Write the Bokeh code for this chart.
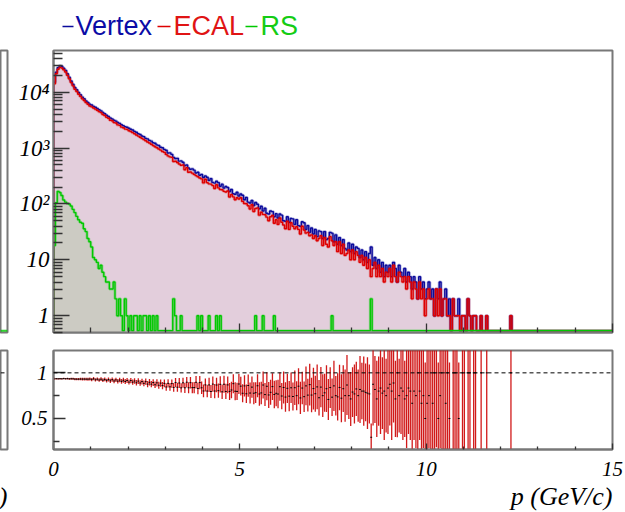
import numpy as np
from bokeh.plotting import figure
from bokeh.models import Range1d, FixedTicker, Span, Title, CustomJSTickFormatter
from bokeh.layouts import column, row
from bokeh.embed import file_html
from bokeh.resources import INLINE
from bokeh.core.properties import value

# ---------------- data ----------------
p_min, p_max, bin_width = 0.0, 15.0, 0.05

vertex = [
    15100, 22800, 27600, 29700, 29100, 26900, 24600, 21400, 18600, 15900, 13900, 12150, 11050, 9870, 9030, 8170, 7640, 6980, 6530, 6080,
    5912, 5588, 5391, 5120, 4873, 4641, 4352, 4136, 3878, 3689, 3452, 3327, 3141, 3038, 2862, 2771, 2618, 2523, 2415, 2356,
    2271, 2168, 2104, 1987, 1921, 1803, 1756, 1648, 1602, 1493, 1461, 1372, 1334, 1247, 1218, 1139, 1112, 1038, 1012, 948,
    912, 818, 821, 772, 683, 649, 655, 584, 590, 558, 489, 497, 441, 417, 425, 403, 358, 369, 327, 336,
    297, 318, 301, 264, 284, 243, 236, 255, 241, 207, 226, 192, 206, 197, 167, 181, 152, 149, 162, 139,
    151, 143, 119, 131, 108, 104, 115, 94, 106, 99, 82, 91, 75, 84, 68, 66, 75, 73, 59, 67,
    56, 66, 63, 50, 49, 59, 47, 55, 54, 43, 52, 41, 40, 48, 46, 35, 41, 31, 37, 29,
    35, 26, 33, 32, 24, 32, 23, 24, 31, 30, 21, 28, 19, 25, 18, 23, 16, 15, 20, 14,
    19, 13, 17, 16, 11, 15, 10, 14, 9, 13, 17, 8, 11, 7, 10, 6, 9, 5, 8, 6,
    8, 5, 9, 7, 4, 8, 6, 5, 7, 4, 6, 5, 3, 5, 4, 2, 5, 3, 4, 2,
    3, 4, 2, 3, 1, 3, 2, 4, 1, 2, 3, 1, 2, 0, 2, 1, 1, 2, 0, 1,
    1, 0, 2, 1, 0, 1, 1, 0, 0, 1, 0, 0, 1, 0, 0, 0, 0, 0, 0, 0,
    0, 0, 0, 0, 0, 1, 0, 0, 0, 0, 0, 0, 0, 0, 0, 0, 0, 0, 0, 0,
    0, 0, 0, 0, 0, 0, 0, 0, 0, 0, 0, 0, 0, 0, 0, 0, 0, 0, 0, 0,
    0, 0, 0, 0, 0, 0, 0, 0, 0, 0, 0, 0, 0, 0, 0, 0, 0, 0, 0, 0,
]

ecal = [
    14120, 21340, 25790, 27790, 27190, 25200, 23000, 20050, 17370, 14870, 12990, 11320, 10290, 9190, 8420, 7610, 7120, 6500, 6080, 5670,
    5471, 5230, 4978, 4768, 4489, 4320, 4002, 3841, 3548, 3421, 3150, 3079, 2861, 2804, 2601, 2553, 2371, 2318, 2185, 2160,
    2041, 1985, 1889, 1810, 1712, 1640, 1561, 1490, 1418, 1349, 1281, 1230, 1169, 1115, 1059, 1014, 961, 921, 871, 839,
    771, 724, 695, 681, 574, 580, 552, 519, 493, 497, 409, 446, 369, 372, 356, 338, 321, 306, 292, 281,
    238, 276, 241, 229, 226, 213, 189, 221, 194, 181, 179, 168, 164, 171, 133, 147, 134, 119, 129, 122,
    129, 111, 102, 101, 93, 81, 97, 73, 83, 85, 63, 71, 65, 64, 58, 50, 59, 62, 45, 52,
    43, 56, 47, 42, 36, 49, 35, 46, 40, 36, 39, 35, 29, 40, 34, 30, 31, 27, 28, 24,
    27, 22, 24, 27, 18, 25, 19, 17, 26, 22, 18, 21, 14, 21, 13, 19, 12, 13, 15, 10,
    15, 10, 14, 12, 9, 12, 8, 11, 7, 10, 5, 7, 9, 5, 8, 5, 7, 4, 6, 5,
    7, 4, 8, 5, 4, 6, 5, 4, 5, 3, 5, 4, 2, 4, 3, 2, 4, 2, 3, 1,
    2, 3, 2, 2, 1, 3, 1, 3, 1, 2, 2, 1, 1, 0, 2, 1, 1, 1, 0, 1,
    1, 0, 2, 1, 0, 1, 1, 0, 0, 1, 0, 0, 1, 0, 0, 0, 0, 0, 0, 0,
    0, 0, 0, 0, 0, 1, 0, 0, 0, 0, 0, 0, 0, 0, 0, 0, 0, 0, 0, 0,
    0, 0, 0, 0, 0, 0, 0, 0, 0, 0, 0, 0, 0, 0, 0, 0, 0, 0, 0, 0,
    0, 0, 0, 0, 0, 0, 0, 0, 0, 0, 0, 0, 0, 0, 0, 0, 0, 0, 0, 0,
]

rs = [
    18, 105, 168, 160, 142, 118, 108, 102, 100, 92, 80, 70, 60, 52, 47, 45, 36, 32, 24, 21,
    17, 11, 10, 9, 7, 8, 6, 5, 4, 4, 3, 3, 4, 2, 1, 2, 1, 0, 2, 1,
    0, 1, 0, 1, 1, 0, 1, 0, 1, 1, 0, 1, 0, 1, 0, 1, 0, 0, 0, 0,
    0, 0, 0, 0, 2, 1, 0, 0, 1, 0, 0, 0, 0, 0, 0, 0, 0, 1, 0, 1,
    0, 0, 0, 1, 0, 0, 0, 1, 0, 1, 0, 0, 0, 0, 0, 0, 0, 0, 0, 0,
    0, 0, 0, 0, 0, 0, 0, 0, 1, 0, 0, 0, 1, 0, 0, 0, 0, 0, 1, 0,
    0, 0, 0, 0, 0, 0, 0, 0, 0, 0, 0, 0, 0, 0, 0, 0, 0, 0, 0, 0,
    0, 0, 0, 0, 0, 0, 0, 0, 0, 1, 0, 0, 0, 0, 0, 0, 0, 0, 0, 0,
    0, 0, 0, 0, 0, 0, 0, 0, 0, 0, 2, 0, 0, 0, 0, 0, 0, 0, 0, 0,
    0, 0, 0, 0, 0, 0, 0, 0, 0, 0, 0, 0, 0, 0, 0, 0, 0, 0, 0, 0,
    0, 0, 0, 0, 0, 0, 0, 0, 0, 0, 0, 0, 0, 0, 0, 0, 0, 0, 0, 0,
    0, 0, 0, 0, 0, 0, 0, 0, 0, 0, 0, 0, 0, 0, 0, 0, 0, 0, 0, 0,
    0, 0, 0, 0, 0, 0, 0, 0, 0, 0, 0, 0, 0, 0, 0, 0, 0, 0, 0, 0,
    0, 0, 0, 0, 0, 0, 0, 0, 0, 0, 0, 0, 0, 0, 0, 0, 0, 0, 0, 0,
    0, 0, 0, 0, 0, 0, 0, 0, 0, 0, 0, 0, 0, 0, 0, 0, 0, 0, 0, 0,
]

legend_labels = ["Vertex", "ECAL", "RS"]
x_major = [0, 5, 10, 15]
x_minor = [1, 2, 3, 4, 6, 7, 8, 9, 11, 12, 13, 14]
log_major = [1, 10, 100, 1000, 10000]
log_minor = [m * 10 ** k for k in range(-1, 5) for m in range(2, 10)]
ratio_major = [0.5, 1.0]
ratio_minor = [0.25, 0.75]
x_title = "p (GeV/c)"
neighbour_last_tick = "15"

# ---------------- styles ----------------
C_BLUE, C_RED, C_GREEN = "#0a0a9c", "#dd0000", "#00c800"
TXT_COLORS = ["#0b0ba6", "#e01414", "#14cc14"]
PINK, GREY = "#e3cedc", "#cccbc3"
FRAME = "#787878"
SERIF = "Liberation Serif"
Y_LOG = (0.5, 55800.0)
ZERO_LEVEL = 0.54          # where empty bins are drawn (just above the bottom edge)
Y_RATIO = (0.16, 1.245)

edges = p_min + bin_width * np.arange(len(vertex) + 1)
V = np.asarray(vertex, float)
E = np.asarray(ecal, float)
R = np.asarray(rs, float)


def steps(vals, floor):
    v = np.maximum(vals, floor)
    xs = np.concatenate([[edges[0]], np.repeat(edges, 2)[1:-1], [edges[-1]]])
    ys = np.concatenate([[floor], np.repeat(v, 2), [floor]])
    return xs, ys


def style_frame(p):
    p.grid.visible = False
    p.outline_line_color = FRAME
    p.outline_line_width = 2
    p.background_fill_color = "white"
    p.border_fill_color = "white"


def style_axis(ax, major_in, minor_in, font_size=None):
    ax.major_tick_in = major_in
    ax.major_tick_out = 0
    ax.minor_tick_in = minor_in
    ax.minor_tick_out = 0
    ax.axis_line_color = FRAME
    ax.axis_line_width = 2
    ax.major_tick_line_color = "#333333"
    ax.minor_tick_line_color = "#333333"
    ax.major_tick_line_width = 1.3
    ax.minor_tick_line_width = 1.3
    ax.major_label_text_font = SERIF
    ax.major_label_text_font_style = "italic"
    ax.major_label_text_color = "black"
    if font_size:
        ax.major_label_text_font_size = font_size


def x_title_obj(standoff=3):
    return Title(text=x_title, align="right", text_font=SERIF, text_font_style="italic",
                 text_font_size="26px", text_color="black", standoff=standoff)


# ---------------- header (legend line) ----------------
hdr = figure(width=625, height=48, x_range=Range1d(0, 625), y_range=Range1d(48, 0),
             toolbar_location=None, output_backend="svg", min_border=0,
             x_axis_location=None, y_axis_location=None)
hdr.grid.visible = False
hdr.outline_line_color = None
hdr.segment(x0=[62, 157, 245], x1=[73, 170, 257], y0=[26, 26, 26], y1=[26, 26, 26],
            line_color=[C_BLUE, C_RED, C_GREEN], line_width=1.5)
hdr.text(x=[75, 173, 260], y=[25, 25, 25], text=legend_labels, text_color=TXT_COLORS,
         text_font=value("Liberation Sans"), text_font_size="27px", text_baseline="middle")

# ---------------- upper main panel ----------------
up = figure(width=611, height=290, x_range=Range1d(p_min, p_max), y_range=Range1d(*Y_LOG),
            y_axis_type="log", toolbar_location=None, output_backend="svg",
            min_border_left=39, min_border_right=13, min_border_top=2, min_border_bottom=6)
style_frame(up)
xs, yv = steps(V, ZERO_LEVEL)
_, ye = steps(E, ZERO_LEVEL)
_, yr = steps(R, ZERO_LEVEL)
up.varea(x=xs, y1=Y_LOG[0], y2=yv, fill_color=PINK)
up.varea(x=xs, y1=Y_LOG[0], y2=yr, fill_color=GREY)
for ys, col in ((yv, C_BLUE), (ye, C_RED), (yr, C_GREEN)):
    up.line(xs, ys, line_color=col, line_width=3, line_alpha=0.28)
    up.line(xs, ys, line_color=col, line_width=1.4)

up.xaxis.ticker = FixedTicker(ticks=x_major, minor_ticks=x_minor)
style_axis(up.xaxis, 9, 5, "1px")
up.xaxis.major_label_text_color = None
up.xaxis.major_label_standoff = 0
up.yaxis.ticker = FixedTicker(ticks=log_major, minor_ticks=log_minor)
up.yaxis.formatter = CustomJSTickFormatter(code="""
const e = Math.round(Math.log10(tick));
if (e <= 0) return "1";
if (e == 1) return "10";
const sup = {2: "\\u00b2", 3: "\\u00b3", 4: "\\u2074", 5: "\\u2075"};
return "10" + sup[e];
""")
style_axis(up.yaxis, 16, 9, "23px")
up.yaxis.major_label_standoff = 4

# ---------------- lower main panel (ratio) ----------------
lo = figure(width=611, height=174, x_range=Range1d(p_min, p_max), y_range=Range1d(*Y_RATIO),
            toolbar_location=None, output_backend="svg",
            min_border_left=39, min_border_right=13, min_border_top=12, min_border_bottom=60)
style_frame(lo)
ok = V > 0
ratio = E[ok] / V[ok]
err = np.sqrt(E[ok] * V[ok] ** 2 + V[ok] * E[ok] ** 2) / V[ok] ** 2
xl = edges[:-1][ok]
xh = edges[1:][ok]
xc = 0.5 * (xl + xh)
lo.add_layout(Span(location=1.0, dimension="width", line_color="black", line_width=1, line_dash="4 3"))
lo.segment(x0=xc, x1=xc, y0=ratio - err, y1=ratio + err, line_color="#cc0000", line_width=1.3, line_alpha=0.9)
lo.segment(x0=xl, x1=xh, y0=ratio, y1=ratio, line_color="black", line_width=1)

num_fmt = CustomJSTickFormatter(code="return String(Math.round(tick*100)/100);")
lo.xaxis.ticker = FixedTicker(ticks=x_major, minor_ticks=x_minor)
lo.yaxis.ticker = FixedTicker(ticks=ratio_major, minor_ticks=ratio_minor)
lo.xaxis.formatter = num_fmt
lo.yaxis.formatter = num_fmt
style_axis(lo.xaxis, 6, 3, "21px")
style_axis(lo.yaxis, 12, 6, "21px")
lo.xaxis.major_label_standoff = 12
lo.yaxis.major_label_standoff = 6
lo.add_layout(x_title_obj(), "below")

# ---------------- neighbouring pad, cut off at the left edge ----------------
# (its frames are aligned by the layout with the main frames of the same row)
lu = figure(width=14, height=290, x_range=Range1d(14.5, 15.5), y_range=Range1d(*Y_LOG),
            y_axis_type="log", toolbar_location=None, output_backend="svg",
            x_axis_location=None, y_axis_location=None,
            min_border_left=0, min_border_right=7, min_border_top=2, min_border_bottom=6)
style_frame(lu)
lu.add_layout(Span(location=ZERO_LEVEL, dimension="width", line_color=C_GREEN, line_width=2, line_alpha=0.8))

ll = figure(width=14, height=174, x_range=Range1d(14.5, 15.5), y_range=Range1d(*Y_RATIO),
            toolbar_location=None, output_backend="svg",
            x_axis_location=None, y_axis_location=None,
            min_border_left=0, min_border_right=7, min_border_top=12, min_border_bottom=60)
style_frame(ll)
ll.add_layout(Span(location=1.0, dimension="width", line_color="black", line_width=1, line_dash="4 3"))
ll.add_layout(Title(text=neighbour_last_tick, align="right", offset=9, text_font=SERIF,
                    text_font_style="italic", text_font_size="21px", text_color="black",
                    standoff=14), "below")
ll.add_layout(x_title_obj(standoff=0), "below")

layout = column(hdr, row(lu, up), row(ll, lo))
open("out.html", "w").write(file_html(layout, INLINE))
